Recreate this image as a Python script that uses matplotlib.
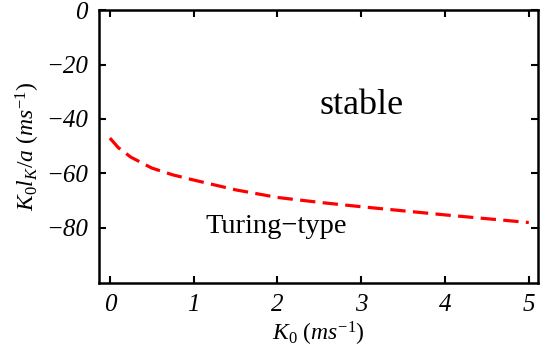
import numpy as np
import matplotlib
matplotlib.use("Agg")
import matplotlib.pyplot as plt
from matplotlib.ticker import FixedLocator

plt.rcParams.update({
    "font.family": "Liberation Serif",
    "mathtext.fontset": "custom",
    "mathtext.rm": "Liberation Serif",
    "mathtext.it": "Liberation Serif:italic",
    "mathtext.bf": "Liberation Serif:bold",
})

# ── Data ──────────────────────────────────────────────────────────────────────
k0 = [0.0, 0.1, 0.25, 0.5, 0.75, 1.0, 1.5, 2.0, 2.5, 3.0, 3.5, 4.0, 4.5, 5.0]
boundary = [-47.0, -50.5, -54.0, -58.0, -60.5, -62.4, -66.0, -68.8, -70.6,
            -72.2, -73.7, -75.2, -76.6, -78.0]

xticks = [0, 1, 2, 3, 4, 5]
yticks = [0, -20, -40, -60, -80]

fig = plt.figure(figsize=(5.4, 3.58), dpi=100)
ax = fig.add_axes([0.1833, 0.2095, 0.8130, 0.7625])

ax.plot(k0, boundary, color="red", linestyle=(0, (4.8, 2.3)), linewidth=2.3)

ax.set_xlim(-0.13, 5.11)
ax.set_ylim(-100.2, 0)
ax.xaxis.set_major_locator(FixedLocator(xticks))
ax.yaxis.set_major_locator(FixedLocator(yticks))
ax.set_xticklabels([str(t) for t in xticks], fontstyle="italic")
ax.set_yticklabels([str(t).replace("-", "\u2212") for t in yticks], fontstyle="italic")
ax.tick_params(direction="in", top=True, right=True, length=5, width=1.5,
               labelsize=18, pad=8)
for s in ax.spines.values():
    s.set_linewidth(1.8)

ax.set_xlabel(r"$K_\mathit{0}$ (${ms}^{-\mathit{1}}$)", fontsize=17, labelpad=3)
ax.set_ylabel(r"$K_\mathit{0} l_K / a$ (${ms}^{-\mathit{1}}$)", fontsize=17, labelpad=3)

ax.text(3.0, -35, "stable", fontsize=26, ha="center", va="center")
ax.text(1.99, -79.5, "Turing\u2212type", fontsize=20.5, ha="center", va="center")

fig.savefig("out.png", dpi=100)
